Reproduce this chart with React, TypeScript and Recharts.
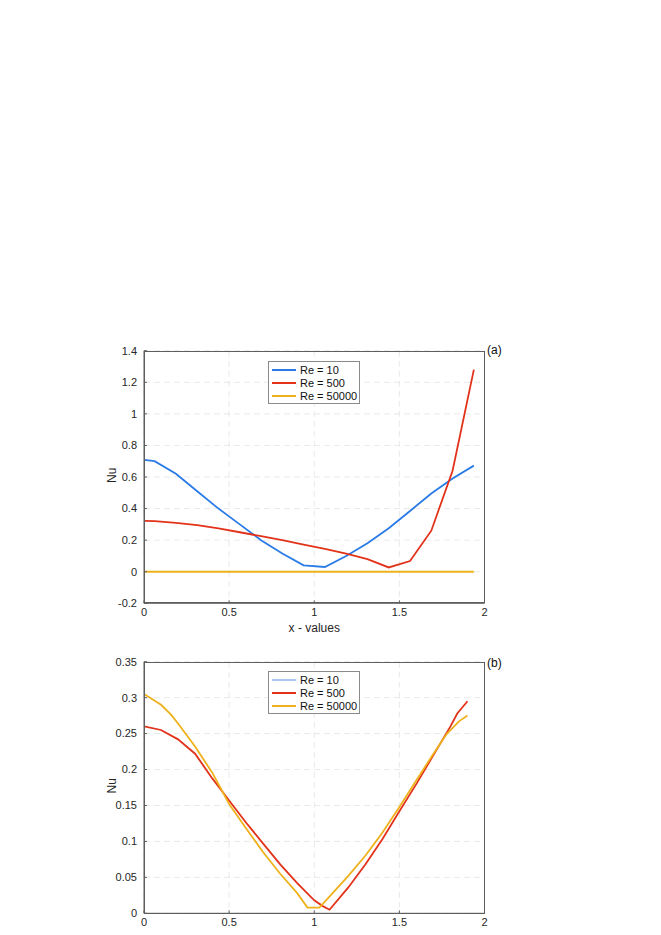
import { LineChart, Line, XAxis, YAxis, CartesianGrid } from "recharts";

// panel (a)
const xsA = [0, 0.0625, 0.1875, 0.3125, 0.4375, 0.5625, 0.6875, 0.8125, 0.9375, 1.0625, 1.1875, 1.3125, 1.4375, 1.5625, 1.6875, 1.8125, 1.9375];
const re10A = [0.709, 0.7, 0.62, 0.51, 0.4, 0.3, 0.2, 0.115, 0.04, 0.03, 0.1, 0.18, 0.275, 0.385, 0.495, 0.59, 0.672];
const re500A = [0.322, 0.32, 0.31, 0.295, 0.275, 0.25, 0.225, 0.2, 0.172, 0.145, 0.115, 0.08, 0.027, 0.068, 0.26, 0.64, 1.28];
const re50000A = [0, 0, 0, 0, 0, 0, 0, 0, 0, 0, 0, 0, 0, 0, 0, 0, 0];

// panel (b)
const xsB500 = [0, 0.1, 0.2, 0.3, 0.4, 0.5, 0.6, 0.7, 0.8, 0.9, 1.0, 1.05, 1.09, 1.2, 1.3, 1.4, 1.5, 1.6, 1.7, 1.8, 1.84, 1.9];
const re500B = [0.26, 0.255, 0.242, 0.222, 0.188, 0.157, 0.126, 0.097, 0.068, 0.042, 0.018, 0.01, 0.005, 0.036, 0.068, 0.103, 0.142, 0.18, 0.22, 0.26, 0.278, 0.295];
const xsB50000 = [0, 0.1, 0.16, 0.2, 0.3, 0.4, 0.5, 0.6, 0.7, 0.8, 0.9, 0.96, 1.03, 1.1, 1.2, 1.3, 1.4, 1.5, 1.6, 1.7, 1.78, 1.85, 1.9];
const re50000B = [0.305, 0.29, 0.276, 0.264, 0.232, 0.196, 0.152, 0.118, 0.085, 0.055, 0.028, 0.008, 0.008, 0.026, 0.052, 0.08, 0.112, 0.148, 0.185, 0.222, 0.25, 0.267, 0.275];

const xTicks = [0, 0.5, 1, 1.5, 2];
const yTicksA = [-0.2, 0, 0.2, 0.4, 0.6, 0.8, 1, 1.2, 1.4];
const yTicksB = [0, 0.05, 0.1, 0.15, 0.2, 0.25, 0.3, 0.35];
const legendNames = ["Re = 10", "Re = 500", "Re = 50000"];

const BLUE = "#2a7be6";
const LIGHT_BLUE = "#a9c9f3";
const RED = "#e2331a";
const YELLOW = "#eeb11b";
const AXIS = "#5e5e5e";
const FONT = "'Liberation Sans', Arial, Helvetica, sans-serif";

const toPts = (xs: number[], ys: number[]) => xs.map((x, i) => ({ x, y: ys[i] }));

const tickStyle = { fill: "#262626", fontSize: 11, fontFamily: FONT };

function Axes({ domainY, ticksY, xLabel }: any) {
  return [
    <CartesianGrid key="g" stroke="#e3e3e3" strokeDasharray="6 4" strokeWidth={0.8} />,
    <XAxis
      key="xb"
      dataKey="x"
      type="number"
      domain={[0, 2]}
      ticks={xTicks}
      height={20}
      tickSize={-3}
      tickMargin={8}
      stroke={AXIS}
      tick={tickStyle}
      allowDataOverflow
      label={xLabel ? { value: xLabel, position: "bottom", offset: 0, fill: "#262626", fontSize: 12, fontFamily: FONT } : undefined}
    />,
    <YAxis
      key="yl"
      type="number"
      domain={domainY}
      ticks={ticksY}
      width={40}
      tickSize={-3}
      tickMargin={10}
      stroke={AXIS}
      tick={tickStyle}
      allowDataOverflow
      label={{ value: "Nu", angle: -90, position: "insideLeft", offset: 8, dy: 6, fill: "#262626", fontSize: 12, fontFamily: FONT }}
    />,
  ];
}

function LegendBox({ top, colors }: any) {
  return (
    <div
      style={{
        position: "absolute",
        left: 268,
        top,
        width: 92,
        height: 43,
        border: "1px solid #8a8a8a",
        background: "#fff",
        fontFamily: FONT,
        fontSize: 11,
        color: "#111",
        boxSizing: "border-box",
        paddingTop: 2,
        whiteSpace: "nowrap",
      }}
    >
      {legendNames.map((n, i) => (
        <div key={n} style={{ display: "flex", alignItems: "center", height: 12.8 }}>
          <div style={{ width: 24, height: 2, background: colors[i], marginLeft: 3, marginRight: 4, flexShrink: 0 }} />
          <span>{n}</span>
        </div>
      ))}
    </div>
  );
}

const frame = (top: number) => (
  <div
    style={{
      position: "absolute",
      left: 144,
      top,
      width: 340.5,
      height: 252.6,
      border: `1px solid ${AXIS}`,
      boxSizing: "border-box",
      pointerEvents: "none",
    }}
  />
);

const panelLabel = (text: string, top: number) => (
  <div style={{ position: "absolute", left: 487, top, fontFamily: FONT, fontSize: 12, color: "#111" }}>{text}</div>
);

export default function App() {
  return (
    <div style={{ position: "absolute", left: 0, top: 0, width: 661, height: 935, background: "#fff" }}>
      <div style={{ position: "absolute", left: 0, top: 0 }}>
        <LineChart width={661} height={640} margin={{ top: 350.7, right: 176.5, bottom: 16.7, left: 104 }}>
          {Axes({ domainY: [-0.2, 1.4], ticksY: yTicksA, xLabel: "x - values" })}
          <Line data={toPts(xsA, re10A)} dataKey="y" stroke={BLUE} strokeWidth={1.8} dot={false} isAnimationActive={false} />
          <Line data={toPts(xsA, re500A)} dataKey="y" stroke={RED} strokeWidth={1.8} dot={false} isAnimationActive={false} />
          <Line data={toPts(xsA, re50000A)} dataKey="y" stroke={YELLOW} strokeWidth={1.8} dot={false} isAnimationActive={false} />
        </LineChart>
      </div>
      <div style={{ position: "absolute", left: 0, top: 600 }}>
        <LineChart width={661} height={335} margin={{ top: 61.7, right: 176.5, bottom: 1.7, left: 104 }}>
          {Axes({ domainY: [0, 0.35], ticksY: yTicksB })}
          <Line data={toPts(xsB500, re500B)} dataKey="y" stroke={RED} strokeWidth={1.8} dot={false} isAnimationActive={false} />
          <Line data={toPts(xsB50000, re50000B)} dataKey="y" stroke={YELLOW} strokeWidth={1.8} dot={false} isAnimationActive={false} />
        </LineChart>
      </div>
      {frame(350.7)}
      {frame(661.7)}
      <LegendBox top={361} colors={[BLUE, RED, YELLOW]} />
      <LegendBox top={671} colors={[LIGHT_BLUE, RED, YELLOW]} />
      {panelLabel("(a)", 343)}
      {panelLabel("(b)", 656)}
    </div>
  );
}
